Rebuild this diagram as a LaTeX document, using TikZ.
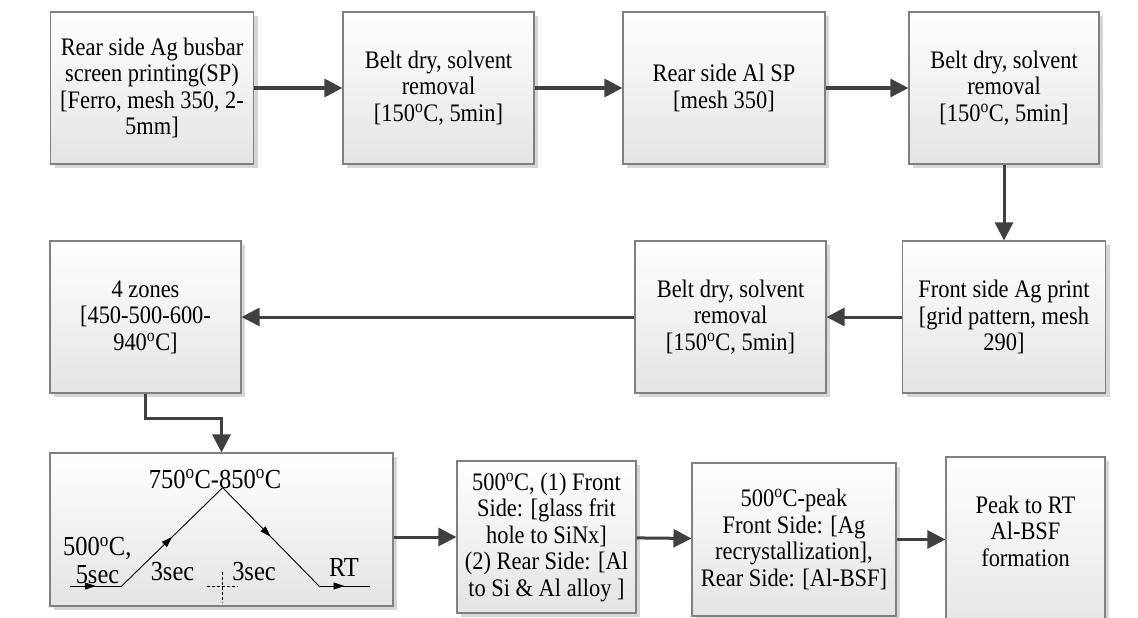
\documentclass[tikz,border=0pt]{standalone}
\usepackage{fontspec}
\setmainfont{Liberation Serif}[FakeStretch=0.89]
\usepackage{tikz}
\usetikzlibrary{arrows.meta,shadows,decorations.markings}
\definecolor{arrowgray}{RGB}{64,64,64}
\definecolor{boxline}{RGB}{128,128,128}
\definecolor{boxbottom}{RGB}{228,228,228}
\definecolor{boxshadow}{RGB}{214,214,214}
\newcommand{\dgr}{\textsuperscript{o}}

\begin{document}
\begin{tikzpicture}[x=1pt,y=-1pt,
    stepbox/.style={draw=boxline, line width=1.1pt, top color=white, bottom color=boxbottom,
      drop shadow={shadow xshift=4pt, shadow yshift=-4pt, fill=boxshadow, opacity=1},
      align=center, inner sep=0pt, minimum height=152pt, font=\fontsize{25.2}{26.5}\selectfont},
    flow/.style={draw=arrowgray, line width=3pt, -{Triangle[length=18pt,width=18pt]}},
    ramp/.style={line width=0.9pt, postaction={decorate},
      decoration={markings, mark=at position 0.5 with {\arrow{Triangle[length=11pt,width=7pt]}}}},
    tag/.style={inner sep=0pt, font=\fontsize{27.5}{28}\selectfont}]
    \useasboundingbox (0,0) rectangle (1138,618);

    \node[stepbox, minimum width=203pt] (busbar) at (152,88) {Rear side Ag busbar\\screen printing(SP)\\{}[Ferro, mesh 350, 2-\\5mm]};
    \node[stepbox, minimum width=191pt] (dryA) at (438.5,88) {Belt dry, solvent\\removal\\{}[150\dgr C, 5min]};
    \node[stepbox, minimum width=202pt] (alSP) at (724,88) {Rear side Al SP\\{}[mesh 350]};
    \node[stepbox, minimum width=190pt] (dryB) at (1004,88) {Belt dry, solvent\\removal\\{}[150\dgr C, 5min]};
    \node[stepbox, minimum width=203pt] (frontAg) at (1004,317) {Front side Ag print\\{}[grid pattern, mesh\\290]};
    \node[stepbox, minimum width=191pt] (dryC) at (730.5,317) {Belt dry, solvent\\removal\\{}[150\dgr C, 5min]};
    \node[stepbox, minimum width=191pt] (zones) at (145.5,317) {4 zones\\{}[450-500-600-\\940\dgr C]};
    \node[stepbox, minimum width=343pt, minimum height=153pt] (profile) at (221.5,529.5) {};
    \node[stepbox, minimum width=179pt] (fire) at (546.5,537) {500\dgr C, (1) Front\\Side: [glass frit\\hole to SiNx]\\(2) Rear Side: [Al\\to Si \& Al alloy ]};
    \node[stepbox, minimum width=204pt, minimum height=153pt] (recryst) at (794,539.5) {500\dgr C-peak\\Front Side: [Ag\\recrystallization],\\Rear Side: [Al-BSF]};
    \node[stepbox, minimum width=159pt, minimum height=185pt] (peakRT) at (1025.5,549.5) {};
    \node[inner sep=0pt, align=center, font=\fontsize{25.2}{26.5}\selectfont] (peakRTtxt) at (1025.5,531) {Peak to RT\\Al-BSF\\formation};

    \draw[flow] (busbar) -- (dryA);
    \draw[flow] (dryA) -- (alSP);
    \draw[flow] (alSP) -- (dryB);
    \draw[flow] (dryB) -- (frontAg);
    \draw[flow] (frontAg) -- (dryC);
    \draw[flow] (dryC) -- (zones);
    \coordinate (bend) at (221.5,418);
    \draw[flow] (zones.south) |- (bend) -- (profile.north);
    \draw[flow] (profile.east |- fire.west) -- (fire.west);
    \draw[flow] (fire) -- (recryst);
    \draw[flow] (recryst.east) -- (recryst.east -| peakRT.west);

    \coordinate (rampA) at (70,586);
    \coordinate (rampB) at (121.7,586);
    \coordinate (peak) at (222.7,487.7);
    \coordinate (rampC) at (319,586);
    \coordinate (rampD) at (370,586);
    \draw[ramp] (rampA) -- (rampB);
    \draw[ramp] (rampB) -- (peak);
    \draw[ramp] (peak) -- (rampC);
    \draw[ramp] (rampC) -- (rampD);
    \draw[line width=0.5pt, dash pattern=on 3pt off 2pt] (222.7,571.7) -- (222.7,603) (206.7,586.7) -- (238.3,586.7);

    \node[tag] (peakT) at (215,479) {750\dgr C-850\dgr C};
    \node[tag, anchor=west] (startT) at (63,548) {500\dgr C,};
    \node[tag] (holdT) at (97.5,575) {5sec};
    \node[tag] (riseT) at (172.5,572) {3sec};
    \node[tag] (fallT) at (254,572) {3sec};
    \node[tag] (rtT) at (344,567) {RT};
\end{tikzpicture}
\end{document}
